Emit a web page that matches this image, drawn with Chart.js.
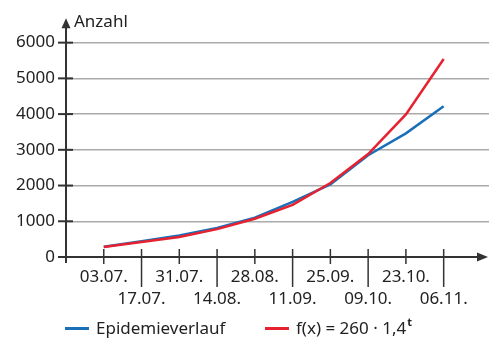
<!DOCTYPE html>
<html>
<head>
<meta charset="utf-8">
<script src="https://cdn.jsdelivr.net/npm/chart.js@4"></script>
<style>
  body { margin: 0; background: #fff; }
  #wrap { position: relative; width: 489px; height: 339px; }
  .legend { position: absolute; top: 319px; font: 17px "Noto Sans", sans-serif; line-height: 17px; color: #222; white-space: nowrap; }
  .legend .line { display: inline-block; width: 24px; height: 2.5px; vertical-align: middle; margin-right: 7px; position: relative; top: -1px; }
  .legend sup { font-size: 11px; font-weight: bold; line-height: 0; vertical-align: baseline; position: relative; top: -8px; margin-left: 1px; }
</style>
</head>
<body>
<div id="wrap">
  <canvas id="chart" width="489" height="339"></canvas>
  <div class="legend" style="left:65px"><span class="line" style="background:#1a70b8"></span>Epidemieverlauf</div>
  <div class="legend" style="left:265px"><span class="line" style="background:#e62230"></span>f(x) = 260 · 1,4<sup>t</sup></div>
</div>
<script>
// values
const xLabels = ['03.07.', '17.07.', '31.07.', '14.08.', '28.08.', '11.09.', '25.09.', '09.10.', '23.10.', '06.11.'];
const epidemie = [290, 440, 600, 810, 1100, 1540, 2030, 2850, 3460, 4220];
const modell = [280, 420, 560, 780, 1070, 1460, 2070, 2880, 3990, 5540];
const yTicks = [0, 1000, 2000, 3000, 4000, 5000, 6000];

const axisColor = '#333';
const textColor = '#222';
const font = { family: 'Noto Sans', size: 17 };

// axes with arrows and tick marks
const axesPlugin = {
    id: 'axes',
    afterDraw(chart) {
        const ctx = chart.ctx;
        const x = chart.scales.x, y = chart.scales.y;
        const x0 = x.left, y0 = y.getPixelForValue(0);
        ctx.save();
        ctx.strokeStyle = axisColor;
        ctx.fillStyle = axisColor;
        ctx.lineWidth = 2;

        // y axis
        ctx.beginPath();
        ctx.moveTo(x0, y0 + 6);
        ctx.lineTo(x0, y.top + 4);
        ctx.stroke();
        ctx.beginPath();
        ctx.moveTo(x0, y.top - 3);
        ctx.lineTo(x0 - 4.5, y.top + 7);
        ctx.lineTo(x0 + 4.5, y.top + 7);
        ctx.closePath();
        ctx.fill();

        // x axis
        ctx.beginPath();
        ctx.moveTo(x0 - 8, y0);
        ctx.lineTo(x.right - 6, y0);
        ctx.stroke();
        ctx.beginPath();
        ctx.moveTo(x.right - 1, y0);
        ctx.lineTo(x.right - 12, y0 - 4.5);
        ctx.lineTo(x.right - 12, y0 + 4.5);
        ctx.closePath();
        ctx.fill();

        // y tick marks
        yTicks.forEach(v => {
            const py = y.getPixelForValue(v);
            ctx.beginPath();
            ctx.moveTo(x0 - 8, py);
            ctx.lineTo(x0 + (v === 0 ? 0 : 7), py);
            ctx.stroke();
        });

        // x tick marks: short on first row, long for second row
        ctx.lineWidth = 1.5;
        xLabels.forEach((_, i) => {
            const px = x.getPixelForValue(i);
            ctx.beginPath();
            ctx.moveTo(px, y0 - 8);
            ctx.lineTo(px, i % 2 === 0 ? y0 + 7 : y0 + 30);
            ctx.stroke();
        });

        // axis title
        ctx.fillStyle = textColor;
        ctx.font = '17px "Noto Sans"';
        ctx.textBaseline = 'alphabetic';
        ctx.fillText('Anzahl', x0 + 8, 27);
        ctx.restore();
    }
};

new Chart(document.getElementById('chart'), {
    type: 'line',
    data: {
        datasets: [{
            label: 'f(x) = 260 · 1,4^t',
            data: modell.map((v, i) => ({ x: i, y: v })),
            borderColor: '#e62230',
            borderWidth: 2.5,
            pointRadius: 0,
            tension: 0,
            order: 0
        }, {
            label: 'Epidemieverlauf',
            data: epidemie.map((v, i) => ({ x: i, y: v })),
            borderColor: '#1a70b8',
            borderWidth: 2.5,
            pointRadius: 0,
            tension: 0,
            order: 1
        }]
    },
    options: {
        responsive: false,
        animation: false,
        devicePixelRatio: 1,
        layout: { padding: { top: 20, left: 0, right: 0, bottom: 0 } },
        plugins: { legend: { display: false }, tooltip: { enabled: false } },
        scales: {
            x: {
                type: 'linear',
                min: -1,
                max: 10.2,
                afterBuildTicks: scale => { scale.ticks = xLabels.map((_, i) => ({ value: i })); },
                afterFit: scale => { scale.height = 82; },
                grid: { display: false, drawTicks: false },
                border: { display: false },
                ticks: {
                    autoSkip: false,
                    maxRotation: 0,
                    padding: 9,
                    color: textColor,
                    font: Object.assign({ lineHeight: 1.3 }, font),
                    callback: v => v % 2 === 0 ? [xLabels[v], ''] : ['', xLabels[v]]
                }
            },
            y: {
                min: 0,
                max: 6600,
                afterBuildTicks: scale => { scale.ticks = yTicks.map(v => ({ value: v })); },
                afterFit: scale => { scale.width = 66; },
                grid: {
                    drawTicks: false,
                    color: c => c.tick && c.tick.value === 0 ? 'rgba(0,0,0,0)' : '#aaa',
                    lineWidth: 1.5
                },
                border: { display: false },
                ticks: { padding: 11, color: textColor, font: font, callback: v => String(v) }
            }
        }
    },
    plugins: [axesPlugin]
});
</script>
</body>
</html>
